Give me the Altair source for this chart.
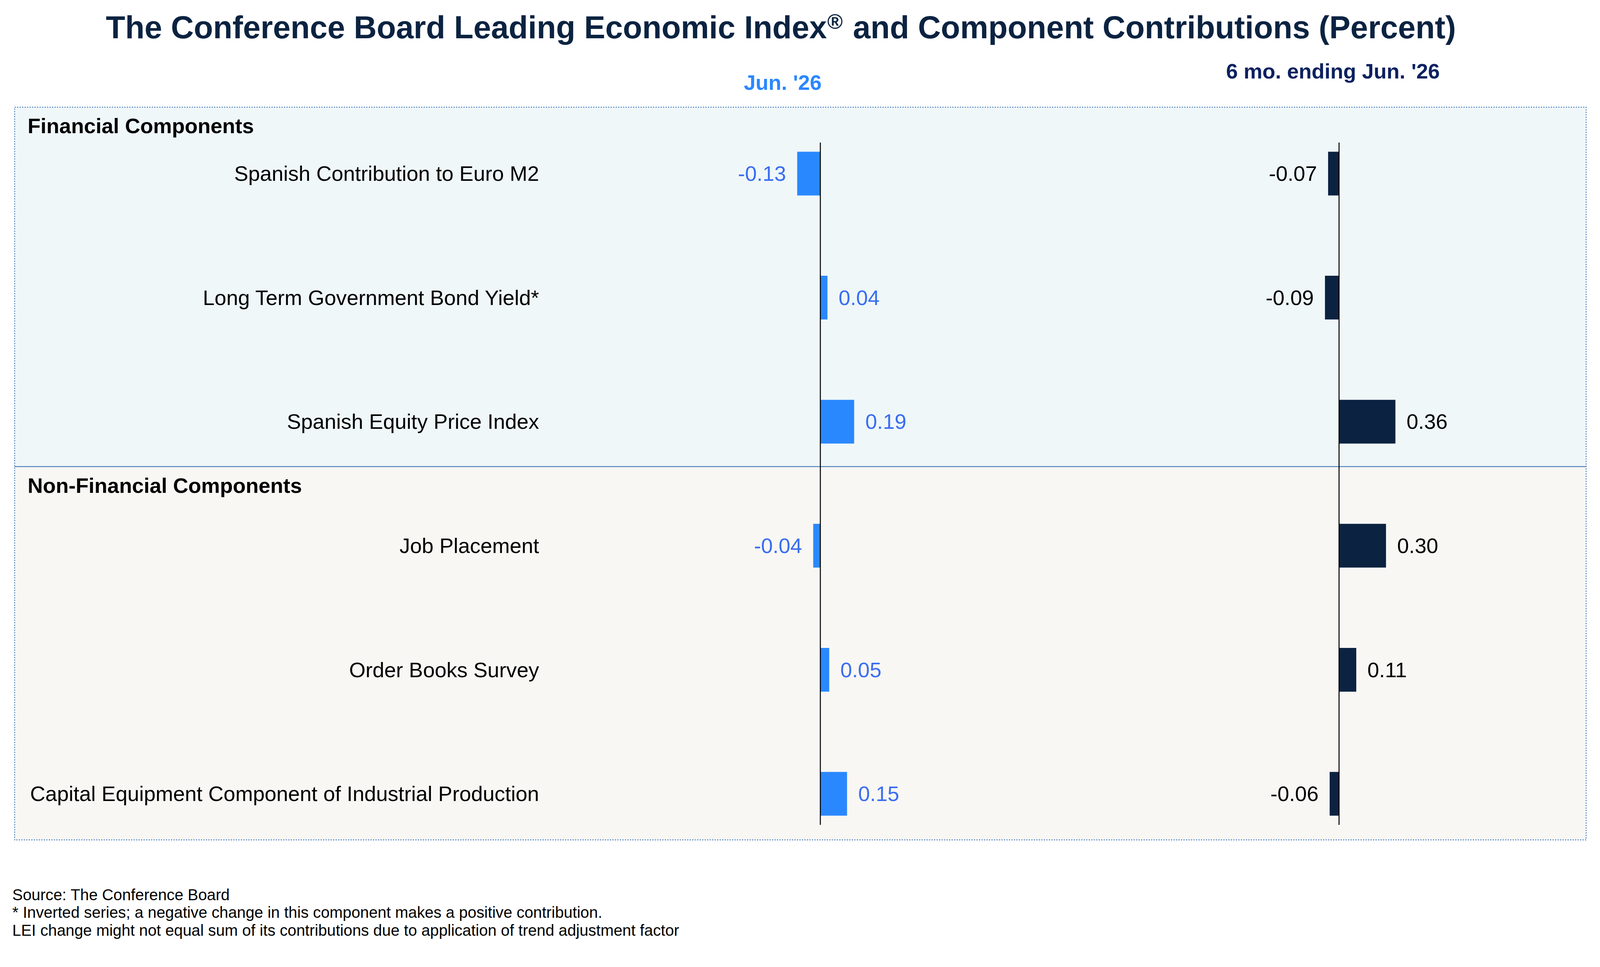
import altair as alt
import pandas as pd

# ---------------- data ----------------
components = [
    "Spanish Contribution to Euro M2",
    "Long Term Government Bond Yield*",
    "Spanish Equity Price Index",
    "Job Placement",
    "Order Books Survey",
    "Capital Equipment Component of Industrial Production",
]
jun_26 = [-0.13, 0.04, 0.19, -0.04, 0.05, 0.15]
six_mo_jun_26 = [-0.07, -0.09, 0.36, 0.30, 0.11, -0.06]
row_order = [0, 1, 2, 3, 4, 5]

title_parts = [
    "The Conference Board Leading Economic Index",
    "\u00ae",
    "and Component Contributions (Percent)",
]
col_left = "Jun. '26"
col_right = "6 mo. ending Jun. '26"
section_fin = "Financial Components"
section_nonfin = "Non-Financial Components"
footnotes = [
    "Source: The Conference Board",
    "* Inverted series; a negative change in this component makes a positive contribution.",
    "LEI change might not equal sum of its contributions due to application of trend adjustment factor",
]

df = pd.DataFrame({"component": components, "jun": jun_26, "six": six_mo_jun_26, "row": row_order})

# ---------------- layout ----------------
W, H = 4154, 2460
FONT = "Liberation Sans, Arial, Helvetica, sans-serif"
SHIFT = -23  # vertical correction of the whole layout
ROW0, STEP = 445.0 + SHIFT, 323.4
HALF = 57.0 / STEP

yscale = alt.Scale(domain=[-ROW0 / STEP, (H - ROW0) / STEP], reverse=True, nice=False, zero=False)


def xscale(zero_px, px_per_unit):
    return alt.Scale(domain=[-zero_px / px_per_unit, (W - zero_px) / px_per_unit], nice=False, zero=False)


xl = xscale(2130, 464)
xr = xscale(3482, 408)

one = alt.Data(values=[{}])

base = alt.Chart(df).transform_calculate(
    y0=f"datum.row - {HALF}", y1=f"datum.row + {HALF}"
)


def panel(field, scale, bar_color, text_color):
    rule = alt.Chart(one).mark_rule(color="black", strokeWidth=2.6).encode(
        x=alt.XDatum(0, type="quantitative", scale=scale, axis=None),
        y=alt.YDatum(-0.25, type="quantitative", scale=yscale, axis=None),
        y2=alt.datum(5.25),
    )
    bars = base.mark_rect(color=bar_color).encode(
        x=alt.X(f"{field}:Q", scale=scale, axis=None),
        x2=alt.datum(0),
        y=alt.Y("y0:Q", scale=yscale, axis=None),
        y2="y1:Q",
    )
    lab = base.transform_calculate(
        lab=f"replace(format(datum.{field}, '.2f'), '\u2212', '-')"
    )
    common = dict(dy=19, baseline="alphabetic", fontSize=55, font=FONT, color=text_color)
    pos = lab.transform_filter(f"datum.{field} >= 0").mark_text(
        align="left", dx=29, **common
    ).encode(
        x=alt.X(f"{field}:Q", scale=scale, axis=None),
        y=alt.Y("row:Q", scale=yscale, axis=None),
        text="lab:N",
    )
    neg = lab.transform_filter(f"datum.{field} < 0").mark_text(
        align="right", dx=-29, **common
    ).encode(
        x=alt.X(f"{field}:Q", scale=scale, axis=None),
        y=alt.Y("row:Q", scale=yscale, axis=None),
        text="lab:N",
    )
    return [bars, rule, pos, neg]


def note(text, x, y, size, color="black", weight="normal", align="left"):
    return alt.Chart(one).mark_text(
        text=text, align=align, baseline="alphabetic", fontSize=size,
        fontWeight=weight, font=FONT, color=color,
    ).encode(x=alt.value(x), y=alt.value(y + SHIFT))


BOX_L, BOX_R = 30, 4126
BOX_T, BOX_M, BOX_B = 272 + SHIFT, 1209 + SHIFT, 2182 + SHIFT

bg_fin = alt.Chart(one).mark_rect(fill="#eff7f9").encode(
    x=alt.value(BOX_L), x2=alt.value(BOX_R), y=alt.value(BOX_T), y2=alt.value(BOX_M)
)
bg_nonfin = alt.Chart(one).mark_rect(fill="#f8f7f4").encode(
    x=alt.value(BOX_L), x2=alt.value(BOX_R), y=alt.value(BOX_M), y2=alt.value(BOX_B)
)
divider = alt.Chart(one).mark_rule(color="#5a86bb", strokeWidth=2.4).encode(
    x=alt.value(BOX_L), x2=alt.value(BOX_R), y=alt.value(BOX_M)
)
border = alt.Chart(one).mark_rect(
    fillOpacity=0, stroke="#4a7dbf", strokeWidth=2.5, strokeDash=[3, 3.5]
).encode(x=alt.value(BOX_L), x2=alt.value(BOX_R), y=alt.value(BOX_T), y2=alt.value(BOX_B))

cat_labels = base.mark_text(
    align="right", baseline="alphabetic", dy=19, fontSize=55, font=FONT, color="black"
).encode(
    x=alt.value(1397),
    y=alt.Y("row:Q", scale=yscale, axis=None),
    text="component:N",
)

TITLE_C = "#0b2341"
layers = [bg_fin, bg_nonfin, divider, border]
layers += panel("jun", xl, "#2a88ff", "#3a6df0")
layers += panel("six", xr, "#0b2341", "black")
layers += [
    cat_labels,
    note(title_parts[0], 2147, 92, 82.5, color=TITLE_C, weight="bold", align="right"),
    note(title_parts[1], 2148, 68, 55, color=TITLE_C, weight="bold", align="left"),
    note(title_parts[2], 2215, 92, 82.5, color=TITLE_C, weight="bold", align="left"),
    note(col_left, 2032, 227, 55, color="#2a87ff", weight="bold", align="center"),
    note(col_right, 3466, 197, 55, color="#0c2160", weight="bold", align="center"),
    note(section_fin, 64, 340, 55, weight="bold"),
    note(section_nonfin, 64, 1277, 55, weight="bold"),
    note(footnotes[0], 24, 2339, 41),
    note(footnotes[1], 24, 2385, 41),
    note(footnotes[2], 24, 2432, 41),
]

chart = (
    alt.layer(*layers)
    .resolve_scale(x="independent")
    .properties(
        width=W, height=H, padding=0, background="white",
        autosize=alt.AutoSizeParams(type="none"),
    )
    .configure_view(stroke=None)
)

chart.save("out.html", embed_options={"renderer": "svg", "actions": False})
